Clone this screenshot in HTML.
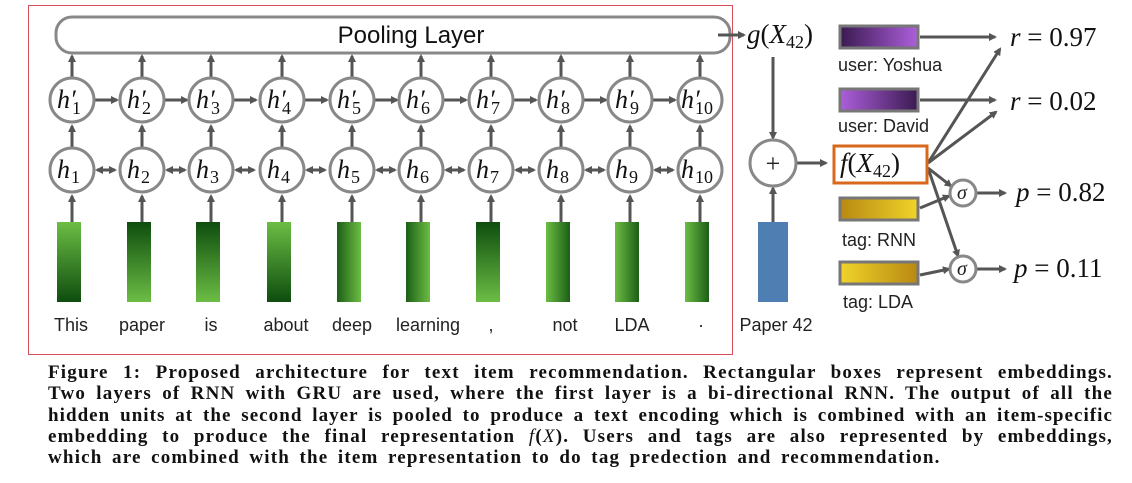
<!DOCTYPE html>
<html><head><meta charset="utf-8"><style>
body{margin:0;background:#fff;width:1132px;height:483px;overflow:hidden;position:relative}
.cap{position:absolute;left:48px;width:1065px;font-family:"Liberation Serif",serif;font-weight:bold;font-size:19px;letter-spacing:1.2px;word-spacing:3.5px;color:#111;line-height:21.3px;top:362px}
.cap div{text-align:justify;text-align-last:justify;white-space:nowrap}
.cap div.l{text-align-last:left}
</style></head><body>
<svg width="1132" height="360" style="position:absolute;left:0;top:0" font-family="Liberation Sans, sans-serif">
<defs>
<marker id="a" markerWidth="8" markerHeight="8" refX="6" refY="4" orient="auto" markerUnits="userSpaceOnUse"><path d="M0,0 L8,4 L0,8 z" fill="#555"/></marker>
<marker id="b" markerWidth="8" markerHeight="8" refX="2" refY="4" orient="auto" markerUnits="userSpaceOnUse"><path d="M8,0 L0,4 L8,8 z" fill="#555"/></marker>
<linearGradient id="gv1" x1="0" y1="0" x2="0" y2="1"><stop offset="0" stop-color="#6cbd45"/><stop offset="1" stop-color="#0e4d0e"/></linearGradient>
<linearGradient id="gv2" x1="0" y1="0" x2="0" y2="1"><stop offset="0" stop-color="#0e4d0e"/><stop offset="1" stop-color="#6cbd45"/></linearGradient>
<linearGradient id="gh1" x1="0" y1="0" x2="1" y2="0"><stop offset="0" stop-color="#1c5e16"/><stop offset="1" stop-color="#6cbd45"/></linearGradient>
<linearGradient id="gh2" x1="0" y1="0" x2="1" y2="0"><stop offset="0" stop-color="#6cbd45"/><stop offset="1" stop-color="#1c5e16"/></linearGradient>
<linearGradient id="p1" x1="0" y1="0" x2="1" y2="0"><stop offset="0" stop-color="#3a1a50"/><stop offset="1" stop-color="#ad5fdc"/></linearGradient>
<linearGradient id="p2" x1="0" y1="0" x2="1" y2="0"><stop offset="0" stop-color="#ad5fdc"/><stop offset="1" stop-color="#3a1a50"/></linearGradient>
<linearGradient id="y1" x1="0" y1="0" x2="1" y2="0"><stop offset="0" stop-color="#b88812"/><stop offset="1" stop-color="#f0d42a"/></linearGradient>
<linearGradient id="y2" x1="0" y1="0" x2="1" y2="0"><stop offset="0" stop-color="#f0d42a"/><stop offset="1" stop-color="#b88812"/></linearGradient>
</defs>
<rect x="28.5" y="5.5" width="704" height="349" fill="none" stroke="#d9505a" stroke-width="1"/>
<rect x="56" y="17" width="674" height="36" rx="16" fill="#fff" stroke="#888" stroke-width="3"/>
<text x="411" y="43" font-size="24" text-anchor="middle" fill="#111">Pooling Layer</text>
<g stroke="#555" stroke-width="3" fill="none">
<line x1="72" y1="222" x2="72" y2="196" marker-end="url(#a)"/>
<line x1="142" y1="222" x2="142" y2="196" marker-end="url(#a)"/>
<line x1="211" y1="222" x2="211" y2="196" marker-end="url(#a)"/>
<line x1="282" y1="222" x2="282" y2="196" marker-end="url(#a)"/>
<line x1="352" y1="222" x2="352" y2="196" marker-end="url(#a)"/>
<line x1="421" y1="222" x2="421" y2="196" marker-end="url(#a)"/>
<line x1="491" y1="222" x2="491" y2="196" marker-end="url(#a)"/>
<line x1="561" y1="222" x2="561" y2="196" marker-end="url(#a)"/>
<line x1="630" y1="222" x2="630" y2="196" marker-end="url(#a)"/>
<line x1="700" y1="222" x2="700" y2="196" marker-end="url(#a)"/>
</g>
<g id="col" stroke="#555" stroke-width="3">
<line x1="72" y1="147" x2="72" y2="126" marker-end="url(#a)"/>
<line x1="72" y1="77" x2="72" y2="56" marker-end="url(#a)"/>
</g>
<use href="#col" x="70"/><use href="#col" x="139"/><use href="#col" x="210"/><use href="#col" x="280"/><use href="#col" x="349"/><use href="#col" x="419"/><use href="#col" x="489"/><use href="#col" x="558"/><use href="#col" x="628"/>
<g id="hz" stroke="#555" stroke-width="3">
<line x1="95" y1="100" x2="117" y2="100" marker-end="url(#a)"/>
<line x1="97" y1="170" x2="115" y2="170" marker-end="url(#a)" marker-start="url(#b)"/>
</g>
<use href="#hz" x="70"/><use href="#hz" x="139"/><use href="#hz" x="210"/><use href="#hz" x="280"/><use href="#hz" x="349"/><use href="#hz" x="419"/><use href="#hz" x="489"/><use href="#hz" x="558"/>
<g fill="#fff" stroke="#888" stroke-width="3">
<circle cx="72" cy="100" r="22"/><circle cx="142" cy="100" r="22"/><circle cx="211" cy="100" r="22"/><circle cx="282" cy="100" r="22"/><circle cx="352" cy="100" r="22"/><circle cx="421" cy="100" r="22"/><circle cx="491" cy="100" r="22"/><circle cx="561" cy="100" r="22"/><circle cx="630" cy="100" r="22"/><circle cx="700" cy="100" r="22"/>
<circle cx="72" cy="170" r="22"/><circle cx="142" cy="170" r="22"/><circle cx="211" cy="170" r="22"/><circle cx="282" cy="170" r="22"/><circle cx="352" cy="170" r="22"/><circle cx="421" cy="170" r="22"/><circle cx="491" cy="170" r="22"/><circle cx="561" cy="170" r="22"/><circle cx="630" cy="170" r="22"/><circle cx="700" cy="170" r="22"/>
</g>
<g font-family="Liberation Serif, serif" fill="#111">
<g font-size="26" font-style="italic">
<text x="57" y="108">h′</text><text x="127" y="108">h′</text><text x="196" y="108">h′</text><text x="267" y="108">h′</text><text x="337" y="108">h′</text><text x="406" y="108">h′</text><text x="476" y="108">h′</text><text x="546" y="108">h′</text><text x="615" y="108">h′</text><text x="681" y="108">h′</text>
<text x="57" y="178">h</text><text x="127" y="178">h</text><text x="196" y="178">h</text><text x="267" y="178">h</text><text x="337" y="178">h</text><text x="406" y="178">h</text><text x="476" y="178">h</text><text x="546" y="178">h</text><text x="615" y="178">h</text><text x="681" y="178">h</text>
</g>
<g font-size="18">
<text x="72" y="114">1</text><text x="142" y="114">2</text><text x="211" y="114">3</text><text x="282" y="114">4</text><text x="352" y="114">5</text><text x="421" y="114">6</text><text x="491" y="114">7</text><text x="561" y="114">8</text><text x="630" y="114">9</text><text x="695" y="114">10</text>
<text x="71" y="183">1</text><text x="141" y="183">2</text><text x="210" y="183">3</text><text x="281" y="183">4</text><text x="351" y="183">5</text><text x="420" y="183">6</text><text x="490" y="183">7</text><text x="560" y="183">8</text><text x="629" y="183">9</text><text x="695" y="183">10</text>
</g>
</g>
<rect x="57" y="222" width="24" height="80" fill="url(#gv1)"/>
<rect x="127" y="222" width="24" height="80" fill="url(#gv2)"/>
<rect x="196" y="222" width="24" height="80" fill="url(#gv2)"/>
<rect x="267" y="222" width="24" height="80" fill="url(#gv1)"/>
<rect x="337" y="222" width="24" height="80" fill="url(#gh1)"/>
<rect x="406" y="222" width="24" height="80" fill="url(#gh1)"/>
<rect x="476" y="222" width="24" height="80" fill="url(#gv2)"/>
<rect x="546" y="222" width="24" height="80" fill="url(#gh2)"/>
<rect x="615" y="222" width="24" height="80" fill="url(#gh2)"/>
<rect x="685" y="222" width="24" height="80" fill="url(#gh2)"/>
<g font-size="18" fill="#222" text-anchor="middle">
<text x="71" y="331">This</text><text x="142" y="331">paper</text><text x="211" y="331">is</text><text x="286" y="331">about</text><text x="352" y="331">deep</text><text x="428" y="331">learning</text><text x="491" y="331">,</text><text x="565" y="331">not</text><text x="632" y="331">LDA</text><text x="701" y="331">·</text>
<text x="776" y="331">Paper 42</text>
</g>
<g stroke="#555" stroke-width="3" fill="none">
<line x1="718" y1="35" x2="744" y2="35" marker-end="url(#a)"/>
<line x1="773" y1="57" x2="773" y2="138" marker-end="url(#a)"/>
<line x1="773" y1="222" x2="773" y2="188" marker-end="url(#a)"/>
<line x1="796" y1="163" x2="826" y2="163" marker-end="url(#a)"/>
<line x1="920" y1="37" x2="995" y2="37" marker-end="url(#a)"/>
<line x1="920" y1="100" x2="995" y2="100" marker-end="url(#a)"/>
<line x1="928" y1="163" x2="1000" y2="49" marker-end="url(#a)"/>
<line x1="928" y1="163" x2="996" y2="112" marker-end="url(#a)"/>
<line x1="928" y1="168" x2="951" y2="186" marker-end="url(#a)"/>
<line x1="928" y1="168" x2="958" y2="256" marker-end="url(#a)"/>
<line x1="920" y1="208" x2="949" y2="196" marker-end="url(#a)"/>
<line x1="920" y1="275" x2="949" y2="269" marker-end="url(#a)"/>
<line x1="977" y1="193" x2="1005" y2="193" marker-end="url(#a)"/>
<line x1="977" y1="269" x2="1005" y2="269" marker-end="url(#a)"/>
</g>
<circle cx="773" cy="163" r="23" fill="#fff" stroke="#888" stroke-width="3"/>
<text x="773" y="172" font-size="26" text-anchor="middle" font-family="Liberation Serif, serif" fill="#222">+</text>
<rect x="758" y="222" width="30" height="80" fill="#4f7fb2"/>
<circle cx="963" cy="193" r="13" fill="#fff" stroke="#888" stroke-width="3"/>
<circle cx="963" cy="269" r="13" fill="#fff" stroke="#888" stroke-width="3"/>
<g font-family="Liberation Serif, serif" font-style="italic" fill="#222">
<text x="957" y="199" font-size="20">σ</text><text x="957" y="275" font-size="20">σ</text>
</g>
<rect x="834" y="146" width="93" height="37" fill="#fff" stroke="#d8681e" stroke-width="3"/>
<g font-family="Liberation Serif, serif" fill="#111" font-size="27">
<text x="747" y="43"><tspan font-style="italic">g</tspan>(<tspan font-style="italic">X</tspan><tspan font-size="18" dy="5">42</tspan><tspan dy="-5">)</tspan></text>
<text x="840" y="172"><tspan font-style="italic">f</tspan>(<tspan font-style="italic">X</tspan><tspan font-size="18" dy="5">42</tspan><tspan dy="-5">)</tspan></text>
<text x="1010" y="46"><tspan font-style="italic">r</tspan> = 0.97</text>
<text x="1010" y="110"><tspan font-style="italic">r</tspan> = 0.02</text>
<text x="1016" y="201"><tspan font-style="italic">p</tspan> = 0.82</text>
<text x="1014" y="277"><tspan font-style="italic">p</tspan> = 0.11</text>
</g>
<g stroke="#777" stroke-width="3">
<rect x="840" y="26" width="78" height="22" fill="url(#p1)"/>
<rect x="840" y="89" width="78" height="22" fill="url(#p2)"/>
<rect x="840" y="198" width="78" height="22" fill="url(#y1)"/>
<rect x="840" y="262" width="78" height="22" fill="url(#y2)"/>
</g>
<g font-size="18" fill="#222">
<text x="838" y="71">user: Yoshua</text>
<text x="838" y="132">user: David</text>
<text x="842" y="246">tag: RNN</text>
<text x="843" y="308">tag: LDA</text>
</g>
</svg>
<div class="cap">
<div>Figure 1: Proposed architecture for text item recommendation. Rectangular boxes represent embeddings.</div>
<div>Two layers of RNN with GRU are used, where the first layer is a bi-directional RNN. The output of all the</div>
<div style="letter-spacing:1.05px;word-spacing:2.5px">hidden units at the second layer is pooled to produce a text encoding which is combined with an item-specific</div>
<div>embedding to produce the final representation <span style="font-weight:normal;font-style:italic">f</span>(<span style="font-weight:normal;font-style:italic">X</span>). Users and tags are also represented by embeddings,</div>
<div class="l">which are combined with the item representation to do tag predection and recommendation.</div>
</div>
</body></html>
